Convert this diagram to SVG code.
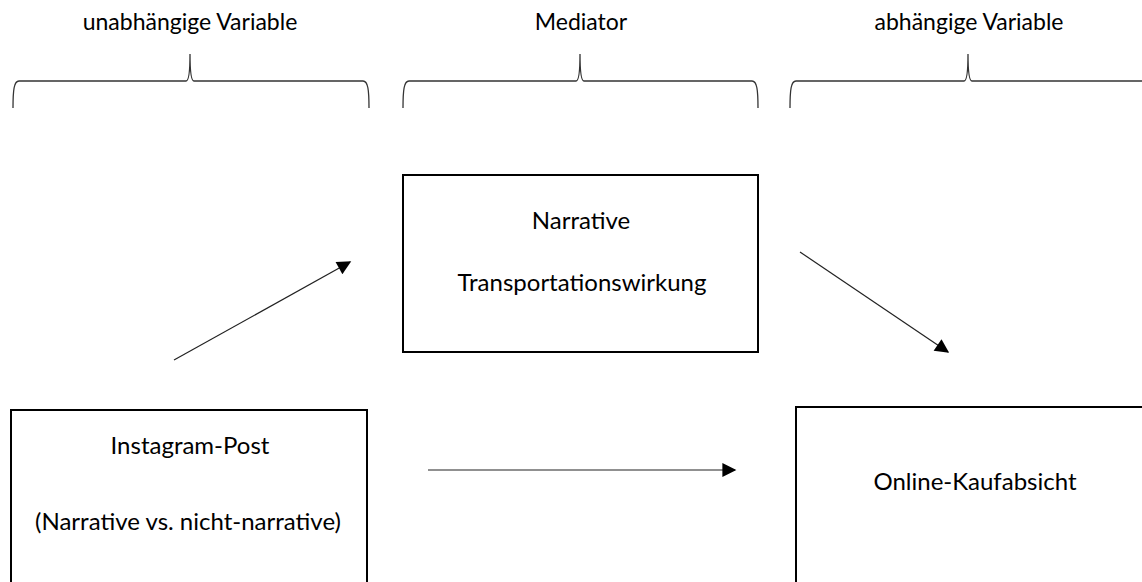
<svg xmlns="http://www.w3.org/2000/svg" width="1142" height="582" viewBox="0 0 1142 582">
<style>
text{font-family:Lato,"Open Sans","Liberation Sans",sans-serif;font-size:24px;fill:#000;text-anchor:middle}
.hdr{font-size:23px}
.box{fill:#fff;stroke:#000;stroke-width:2}
.brace{fill:none;stroke:#333;stroke-width:1.3}
.conn{stroke:#222;stroke-width:1.2;fill:none}
</style>
<defs>
<marker id="ah" viewBox="0 0 10 10" refX="9" refY="5" markerWidth="15" markerHeight="14" markerUnits="userSpaceOnUse" orient="auto">
<path d="M0,0 L10,5 L0,10 Z" fill="#000"/>
</marker>
</defs>
<g id="headers">
<text class="hdr" x="190" y="30">unabhängige Variable</text>
<text class="hdr" x="581" y="30">Mediator</text>
<text class="hdr" x="969" y="30">abhängige Variable</text>
</g>
<g id="braces">
<path class="brace" d="M13,108 C13,90 14,81 19,81 L186,81 C189,81 190,72 190,54 C190,72 191,81 194,81 L363,81 C368,81 369,90 369,108"/>
<path class="brace" d="M403,108 C403,90 404,81 409,81 L576,81 C579,81 580,72 580,54 C580,72 581,81 584,81 L752,81 C757,81 758,90 758,108"/>
<path class="brace" d="M790,108 C790,90 791,81 796,81 L964,81 C967,81 968,72 968,54 C968,72 969,81 972,81 L1142,81"/>
</g>
<g id="node-mediator">
<rect class="box" x="403" y="175" width="355" height="177"/>
<text x="581" y="229">Narrative</text>
<text x="582" y="291">Transportationswirkung</text>
</g>
<g id="node-iv">
<rect class="box" x="11" y="410" width="356" height="190"/>
<text x="190" y="454">Instagram-Post</text>
<text x="188" y="530">(Narrative vs. nicht-narrative)</text>
</g>
<g id="node-dv">
<rect class="box" x="796" y="407" width="360" height="190"/>
<text x="975" y="490">Online-Kaufabsicht</text>
</g>
<g id="connectors">
<line class="conn" x1="174" y1="360" x2="350" y2="262" marker-end="url(#ah)"/>
<line class="conn" x1="800" y1="252" x2="948" y2="352" marker-end="url(#ah)"/>
<line class="conn" x1="428" y1="470" x2="735" y2="470" marker-end="url(#ah)"/>
</g>
</svg>
